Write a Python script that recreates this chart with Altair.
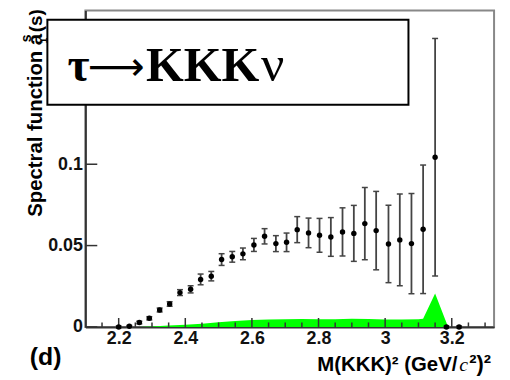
import altair as alt
import pandas as pd

# ---------------- data ----------------
mass = [2.200, 2.232, 2.262, 2.292, 2.323, 2.353, 2.384, 2.416, 2.446, 2.478,
        2.509, 2.541, 2.573, 2.606, 2.638, 2.672, 2.704, 2.736, 2.770, 2.803,
        2.837, 2.872, 2.906, 2.939, 2.973, 3.010, 3.044, 3.079, 3.114, 3.150,
        3.184, 3.222]
spec = [0.0, 0.0004, 0.0027, 0.0053, 0.0104, 0.0141, 0.0211, 0.0231, 0.0292, 0.0312,
        0.0414, 0.0431, 0.0449, 0.0504, 0.0557, 0.0512, 0.0520, 0.0598, 0.0578, 0.0563,
        0.0553, 0.0584, 0.0575, 0.0635, 0.0592, 0.0510, 0.0535, 0.0512, 0.0600, 0.1043,
        0.0, 0.0]
err = [0.0005, 0.0005, 0.0008, 0.0010, 0.0012, 0.0014, 0.0018, 0.0022, 0.0033, 0.0029,
       0.0036, 0.0033, 0.0036, 0.0040, 0.0047, 0.0049, 0.0057, 0.0080, 0.0091, 0.0104,
       0.0119, 0.0148, 0.0172, 0.0222, 0.0241, 0.0238, 0.0282, 0.0308, 0.0395, 0.0730,
       0.0005, 0.0005]

bkg_mass = [2.26, 2.30, 2.35, 2.40, 2.45, 2.50, 2.55, 2.60, 2.65, 2.70, 2.75,
            2.80, 2.85, 2.90, 2.95, 3.00, 3.05, 3.10, 3.114, 3.150, 3.189]
bkg_val = [0.0, 0.0003, 0.0008, 0.0013, 0.0020, 0.0029, 0.0036, 0.0042, 0.0045, 0.0047, 0.0048,
           0.0047, 0.0047, 0.0050, 0.0048, 0.0046, 0.0045, 0.0047, 0.0051, 0.0206, 0.0]

x_major = [2.2, 2.4, 2.6, 2.8, 3.0, 3.2]
x_minor = [2.15, 2.25, 2.3, 2.35, 2.45, 2.5, 2.55, 2.65, 2.7, 2.75, 2.85, 2.9,
           2.95, 3.05, 3.1, 3.15, 3.25, 3.3]
y_major = [0.0, 0.05, 0.1]

# ---------------- layout ----------------
W, H = 412, 319
X0, Y0 = 86, 9          # absolute position of plot origin in the page
XDOM = [2.1, 3.327]
YDOM = [0.0, 0.1945]

SANS = "Liberation Sans"
SERIF = "Liberation Serif"

xaxis = alt.Axis(values=x_major, format="~g", ticks=False, tickSize=0, grid=False,
                 domain=True, domainColor="#333333", domainWidth=2,
                 labelFont=SANS, labelFontWeight="bold", labelFontSize=18,
                 labelColor="#111111", labelPadding=3, title=None)
yaxis = alt.Axis(values=y_major, format="~g", ticks=False, tickSize=0, grid=False,
                 domain=True, domainColor="#333333", domainWidth=2,
                 labelFont=SANS, labelFontWeight="bold", labelFontSize=18,
                 labelColor="#111111", labelPadding=3, title=None)


def X(f):
    return alt.X(f"{f}:Q", scale=alt.Scale(domain=XDOM, nice=False, zero=False), axis=xaxis)


def Y(f):
    return alt.Y(f"{f}:Q", scale=alt.Scale(domain=YDOM, nice=False, zero=False), axis=yaxis)


pts = pd.DataFrame({"m": mass, "s": spec,
                    "lo": [s - e for s, e in zip(spec, err)],
                    "hi": [s + e for s, e in zip(spec, err)]})
bkg = pd.DataFrame({"m": bkg_mass, "v": bkg_val})
one = pd.DataFrame({"k": [0]})

area = alt.Chart(bkg).mark_area(color="#00ff00", opacity=1).encode(x=X("m"), y=Y("v"))

xt_major = alt.Chart(pd.DataFrame({"v": x_major})).mark_rule(color="#333333", strokeWidth=1.5).encode(
    x=X("v"), y=alt.value(H), y2=alt.value(H - 9))
xt_minor = alt.Chart(pd.DataFrame({"v": x_minor})).mark_rule(color="#333333", strokeWidth=1.5).encode(
    x=X("v"), y=alt.value(H), y2=alt.value(H - 4.5))
yt_major = alt.Chart(pd.DataFrame({"v": y_major})).mark_rule(color="#333333", strokeWidth=1.5).encode(
    y=Y("v"), x=alt.value(0), x2=alt.value(12))

bars = alt.Chart(pts).mark_rule(color="#444444", strokeWidth=1.8).encode(
    x=X("m"), y=Y("lo"), y2=alt.Y2("hi"))
cap_hi = alt.Chart(pts).mark_rule(color="#444444", strokeWidth=1.5, xOffset=-3, x2Offset=3).encode(
    x=X("m"), x2=alt.X2("m"), y=Y("hi"))
cap_lo = alt.Chart(pts).mark_rule(color="#444444", strokeWidth=1.5, xOffset=-3, x2Offset=3).encode(
    x=X("m"), x2=alt.X2("m"), y=Y("lo"))
dots = alt.Chart(pts).mark_circle(size=30, color="black", opacity=1).encode(x=X("m"), y=Y("s"))

box = alt.Chart(one).mark_rect(fill="white", stroke="black", strokeWidth=2).encode(
    x=alt.value(47.7 - X0), x2=alt.value(411.7 - X0), y=alt.value(18.3 - Y0), y2=alt.value(104 - Y0))


def txt(text, x, y, size, font=SANS, weight="bold", style="normal", align="left", angle=0):
    return alt.Chart(one).mark_text(text=text, font=font, fontSize=size, fontWeight=weight,
                                    fontStyle=style, align=align, baseline="alphabetic",
                                    angle=angle, color="black").encode(
        x=alt.value(x - X0), y=alt.value(y - Y0))


texts = [
    # box label
    txt("τ", 68, 80, 48, font=SERIF),
    txt("⟶", 117, 79, 40, font="DejaVu Sans", weight="normal", align="center"),
    txt("KKK", 147, 80, 49, font=SERIF),
    txt("ν", 263, 80, 52, font=SERIF, weight="normal"),
    # y title (rotated)
    txt("Spectral function a", 42, 217, 20.5, angle=270),
    txt("s", 31, 41, 14, angle=270),
    txt("1", 47, 42, 10, angle=270),
    txt("(s)", 42, 31, 19, angle=270),
    # panel letter
    txt("(d)", 30, 366.5, 25),
    # x title
    txt("M(KKK)²  (GeV/", 461, 372, 20.5, align="right"),
    txt("c", 463, 372, 20, font=SERIF, weight="normal", style="italic"),
    txt("²)²", 473, 372, 22),
]

chart = alt.layer(area, xt_minor, xt_major, yt_major, bars, cap_hi, cap_lo, dots, box, *texts).properties(
    width=W, height=H,
    autosize=alt.AutoSizeParams(type="none"),
    padding={"left": X0 - 8, "top": Y0 - 8, "right": 8, "bottom": 52},
).configure_view(stroke="#888888", strokeWidth=2)

chart.save("out.html", embed_options={"renderer": "svg", "actions": False})
